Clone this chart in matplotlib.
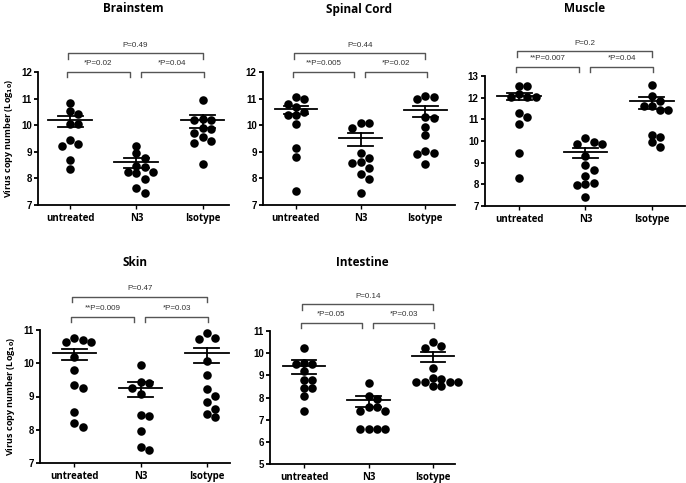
import numpy as np
import matplotlib.pyplot as plt

groups = ['untreated', 'N3', 'Isotype']

# --valores (Log10)
brainstem_vals = [
    [10.85, 10.54, 10.41, 10.06, 10.03, 9.46, 9.31, 9.21, 8.69, 8.35],
    [9.22, 8.94, 8.75, 8.46, 8.44, 8.25, 8.25, 8.19, 7.96, 7.65, 7.44],
    [10.96, 10.25, 10.21, 10.2, 9.88, 9.85, 9.71, 9.56, 9.4, 9.33, 8.56],
]
brainstem_mean = [10.21, 8.6, 10.21]
brainstem_hi = [10.35, 8.75, 10.38]
brainstem_lo = [9.93, 8.38, 9.9]
brainstem_p = ['*P=0.02', '*P=0.04', 'P=0.49']

spinal_vals = [
    [11.06, 10.97, 10.8, 10.7, 10.5, 10.38, 10.37, 10.04, 9.16, 8.79, 7.52],
    [10.1, 10.08, 9.9, 8.95, 8.78, 8.6, 8.57, 8.4, 8.18, 7.97, 7.44],
    [11.08, 11.06, 10.98, 10.3, 10.28, 9.94, 9.64, 9.02, 8.94, 8.9, 8.54],
]
spinal_mean = [10.61, 9.52, 10.56]
spinal_hi = [10.71, 9.69, 10.71]
spinal_lo = [10.41, 9.22, 10.29]
spinal_p = ['**P=0.005', '*P=0.02', 'P=0.44']

muscle_vals = [
    [12.55, 12.55, 12.15, 12.05, 12.05, 12.05, 11.28, 11.09, 10.77, 9.43, 8.31],
    [10.15, 9.95, 9.88, 9.85, 9.3, 8.9, 8.68, 8.38, 8.08, 8.0, 7.98, 7.43],
    [12.6, 12.1, 11.85, 11.62, 11.6, 11.45, 11.42, 10.28, 10.2, 9.94, 9.72],
]
muscle_mean = [12.09, 9.49, 11.86]
muscle_hi = [12.2, 9.69, 12.02]
muscle_lo = [11.89, 9.2, 11.48]
muscle_p = ['**P=0.007', '*P=0.04', 'P=0.2']

skin_vals = [
    [10.77, 10.7, 10.65, 10.65, 10.2, 9.8, 9.35, 9.25, 8.52, 8.2, 8.07],
    [9.95, 9.45, 9.42, 9.27, 9.07, 8.45, 8.4, 7.95, 7.47, 7.38],
    [10.9, 10.77, 10.73, 10.07, 9.65, 9.23, 9.03, 8.82, 8.62, 8.47, 8.37],
]
skin_mean = [10.32, 9.25, 10.3]
skin_hi = [10.43, 9.43, 10.45]
skin_lo = [10.1, 9.0, 10.0]
skin_p = ['**P=0.009', '*P=0.03', 'P=0.47']

intestine_vals = [
    [10.22, 9.55, 9.52, 9.5, 9.2, 8.79, 8.77, 8.42, 8.42, 8.07, 7.4],
    [8.67, 8.07, 7.94, 7.57, 7.55, 7.4, 7.4, 6.6, 6.6, 6.6, 6.6],
    [10.52, 10.33, 10.22, 9.31, 8.9, 8.85, 8.72, 8.7, 8.7, 8.7, 8.53, 8.52],
]
intestine_mean = [9.44, 7.9, 9.88]
intestine_hi = [9.67, 8.09, 10.04]
intestine_lo = [9.07, 7.55, 9.59]
intestine_p = ['*P=0.05', '*P=0.03', 'P=0.14']

W, H = 686, 483
fig = plt.figure(figsize=(W / 100, H / 100), dpi=100)

num_font = 'Liberation Sans'
txt_font = 'Open Sans'


def swarm_x(ax, x0, vals, step=8.3):
    # reparte los puntos en horizontal para que no se pisen (en pixeles)
    pts = ax.transData.transform([(x0, v) for v in vals])
    placed = []
    for px, py in pts:
        for k in [0, 1, -1, 2, -2, 3, -3, 4, -4]:
            cx = px + k * step
            if all((cx - qx) ** 2 + (py - qy) ** 2 >= (step * 0.85) ** 2 for qx, qy in placed):
                break
        placed.append((cx, py))
    inv = ax.transData.inverted()
    return [inv.transform((cx, cy))[0] for cx, cy in placed]


def panel(box, xlim, ylim, title, title_y, vals, mean, hi, lo, pvals, ylab, by):
    l, t, r, b = box
    ax = fig.add_axes([l / W, 1 - b / H, (r - l) / W, (b - t) / H])
    ax.set_xlim(*xlim)
    ax.set_ylim(*ylim)
    for s in ['top', 'right']:
        ax.spines[s].set_visible(False)
    for s in ['left', 'bottom']:
        ax.spines[s].set_linewidth(1.3)
    ax.set_yticks(np.arange(ylim[0], ylim[1] + 1))
    ax.tick_params(axis='y', length=3, width=1.3, pad=1.5, labelsize=7)
    ax.tick_params(axis='x', length=3, width=1.0, pad=2.5)
    for lab in ax.get_yticklabels():
        lab.set_fontfamily(num_font)
        lab.set_fontweight('bold')
    ax.set_xticks([1, 2, 3])
    ax.set_xticklabels(groups, fontfamily=txt_font, fontweight='bold', fontsize=7)

    for i, v in enumerate(vals):
        xs = swarm_x(ax, i + 1, v)
        ax.scatter(xs, v, s=38, color='black', zorder=3, linewidths=0, clip_on=False)
        ax.plot([i + 1 - 0.33, i + 1 + 0.33], [mean[i]] * 2, color='black', lw=1.3, zorder=4)
        ax.plot([i + 1 - 0.19, i + 1 + 0.19], [hi[i]] * 2, color='black', lw=1.3, zorder=4)
        ax.plot([i + 1 - 0.19, i + 1 + 0.19], [lo[i]] * 2, color='black', lw=1.3, zorder=4)
        ax.plot([i + 1, i + 1], [lo[i], hi[i]], color='black', lw=1.3, zorder=4)

    # --corchetes de significancia
    tr = ax.get_xaxis_transform()
    y1, y2 = by
    d = 0.04
    spans = [(0.95, 1.9, y1), (2.07, 3.02, y1), (0.97, 3.0, y2)]
    for (xa, xb, yy), p in zip(spans, pvals):
        ax.plot([xa, xa, xb, xb], [yy - d, yy, yy, yy - d], color='#555555', lw=1.0,
                transform=tr, clip_on=False)
        ax.text((xa + xb) / 2, yy + 0.035, p, transform=tr, ha='center', va='bottom',
                fontsize=5.8, fontfamily=num_font, color='#333333')

    fig.text((l + r) / 2 / W, 1 - title_y / H, title, ha='center', va='center',
             fontfamily=txt_font, fontweight='bold', fontsize=8.5)
    if ylab:
        ax.set_ylabel(r'Virus copy number (Log$_{\mathbf{10}}$)', fontfamily=txt_font,
                      fontweight='bold', fontsize=6.5, labelpad=4)
    return ax


panel((38, 72, 229, 205), (0.515, 3.4), (7, 12), 'Brainstem', 9, brainstem_vals,
      brainstem_mean, brainstem_hi, brainstem_lo, brainstem_p, True, (1.0, 1.14))
panel((263, 72, 455, 205), (0.49, 3.46), (7, 12), 'Spinal Cord', 9, spinal_vals,
      spinal_mean, spinal_hi, spinal_lo, spinal_p, False, (1.0, 1.14))
panel((485, 76, 685, 206), (0.485, 3.5), (7, 13), 'Muscle', 9, muscle_vals,
      muscle_mean, muscle_hi, muscle_lo, muscle_p, False, (1.07, 1.19))
panel((40, 330, 230, 463), (0.48, 3.35), (7, 11), 'Skin', 263, skin_vals,
      skin_mean, skin_hi, skin_lo, skin_p, True, (1.1, 1.25))
panel((270, 331, 455, 464), (0.47, 3.34), (5, 11), 'Intestine', 263, intestine_vals,
      intestine_mean, intestine_hi, intestine_lo, intestine_p, False, (1.06, 1.2))

fig.savefig('out.png', dpi=100)
